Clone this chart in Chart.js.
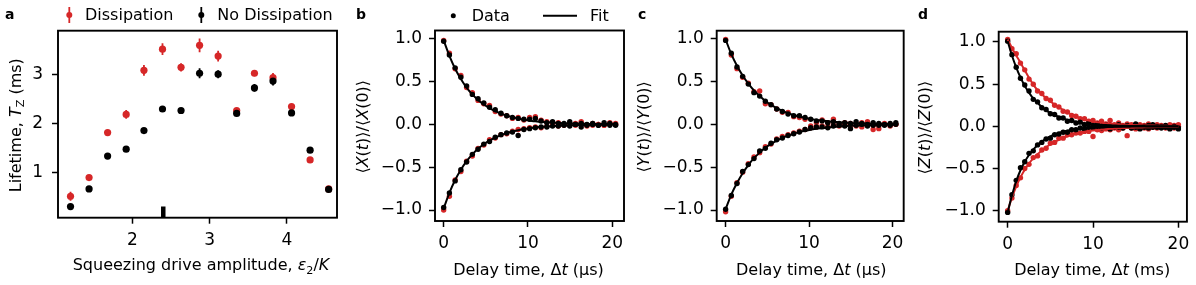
<!DOCTYPE html>
<html>
<head>
<meta charset="utf-8">
<script src="https://cdn.jsdelivr.net/npm/chart.js@4.4.0/dist/chart.umd.min.js"></script>
<style>
  body { margin: 0; background: #fff; width: 1196px; height: 285px; overflow: hidden; position: relative; }
  canvas { position: absolute; top: 0; }
</style>
</head>
<body>
<canvas id="panelA" width="345" height="285" style="left:0px"></canvas>
<canvas id="panelB" width="285" height="285" style="left:345px"></canvas>
<canvas id="panelC" width="280" height="285" style="left:630px"></canvas>
<canvas id="panelD" width="286" height="285" style="left:910px"></canvas>
<script>
// Panel a: lifetime vs squeezing drive amplitude
const amplitudes = [1.20, 1.44, 1.68, 1.92, 2.15, 2.39, 2.63, 2.87, 3.11, 3.35, 3.58, 3.82, 4.06, 4.30, 4.54];
const lifetimeDiss = [0.52, 0.90, 1.82, 2.19, 3.09, 3.52, 3.15, 3.60, 3.38, 2.27, 3.03, 2.94, 2.35, 1.26, 0.67];
const lifetimeDissErr = [0.09, 0.05, 0.05, 0.09, 0.11, 0.12, 0.085, 0.14, 0.11, 0.05, 0.06, 0.095, 0.05, 0.04, 0.03];
const lifetimeNoDiss = [0.31, 0.67, 1.34, 1.48, 1.86, 2.30, 2.27, 3.03, 3.01, 2.21, 2.73, 2.87, 2.22, 1.46, 0.66];
const lifetimeNoDissErr = [0.03, 0.04, 0.04, 0.05, 0.05, 0.05, 0.05, 0.10, 0.08, 0.05, 0.08, 0.09, 0.05, 0.05, 0.03];
const markerX = [2.40, 2.40];
const markerY = [0.0, 0.31];
const ampTicks = [2, 3, 4];
const lifetimeTicks = [1, 2, 3];

// Panels b, c: delay times in us
const timesXY = [0, 0.68, 1.36, 2.04, 2.72, 3.4, 4.08, 4.76, 5.44, 6.12, 6.8, 7.48, 8.16, 8.84, 9.52, 10.2,
  10.88, 11.56, 12.24, 12.92, 13.6, 14.28, 14.96, 15.64, 16.32, 17, 17.68, 18.36, 19.04, 19.72, 20.4];

const xBlackUp = [0.97, 0.81, 0.66, 0.55, 0.45, 0.35, 0.30, 0.25, 0.20, 0.17, 0.13, 0.10, 0.08, 0.07, 0.06, 0.06,
  0.07, 0.04, 0.02, 0.03, 0.01, 0.01, 0.03, 0.00, 0.01, 0.00, 0.01, -0.01, 0.02, 0.01, 0.00];
const xRedUp = [0.98, 0.83, 0.65, 0.57, 0.43, 0.37, 0.28, 0.24, 0.22, 0.15, 0.12, 0.10, 0.07, 0.08, 0.05, 0.08,
  0.09, 0.05, 0.03, 0.02, 0.02, 0.00, 0.01, 0.01, 0.03, -0.01, 0.01, 0.00, -0.01, 0.02, 0.01];
const xBlackLo = [-0.97, -0.80, -0.66, -0.53, -0.44, -0.35, -0.29, -0.23, -0.20, -0.15, -0.12, -0.10, -0.09, -0.13, -0.06, -0.05,
  -0.04, -0.03, -0.03, -0.02, -0.02, -0.01, -0.02, 0.00, -0.03, -0.01, 0.00, -0.01, 0.00, -0.01, -0.01];
const xRedLo = [-1.00, -0.84, -0.65, -0.55, -0.43, -0.37, -0.28, -0.24, -0.18, -0.16, -0.12, -0.11, -0.08, -0.06, -0.05, -0.04,
  -0.03, -0.04, -0.02, -0.01, -0.02, -0.01, 0.00, -0.01, 0.00, -0.02, -0.01, 0.00, -0.01, 0.01, 0.00];
const xFitUp = [0.98, 0.80, 0.65, 0.53, 0.43, 0.35, 0.285, 0.232, 0.189, 0.154, 0.125, 0.102, 0.083, 0.068, 0.055, 0.045,
  0.036, 0.030, 0.024, 0.020, 0.016, 0.013, 0.011, 0.009, 0.007, 0.006, 0.005, 0.004, 0.003, 0.003, 0.002];
const xFitLo = [-0.98, -0.80, -0.65, -0.53, -0.43, -0.35, -0.285, -0.232, -0.189, -0.154, -0.125, -0.102, -0.083, -0.068, -0.055, -0.045,
  -0.036, -0.030, -0.024, -0.020, -0.016, -0.013, -0.011, -0.009, -0.007, -0.006, -0.005, -0.004, -0.003, -0.003, -0.002];

const yBlackUp = [0.98, 0.83, 0.67, 0.56, 0.47, 0.37, 0.33, 0.27, 0.23, 0.18, 0.15, 0.12, 0.10, 0.10, 0.08, 0.06,
  0.04, 0.04, 0.02, 0.03, 0.01, 0.02, 0.01, 0.03, 0.01, 0.00, 0.02, 0.01, -0.01, 0.01, 0.02];
const yRedUp = [0.99, 0.81, 0.65, 0.55, 0.48, 0.38, 0.39, 0.24, 0.23, 0.18, 0.14, 0.14, 0.09, 0.08, 0.06, -0.02,
  0.02, 0.05, 0.02, 0.06, 0.00, 0.02, 0.01, -0.01, 0.02, 0.03, -0.01, -0.05, 0.01, 0.00, 0.00];
const yBlackLo = [-0.99, -0.83, -0.69, -0.55, -0.47, -0.40, -0.31, -0.28, -0.22, -0.18, -0.16, -0.13, -0.11, -0.09, -0.06, -0.04,
  -0.03, -0.03, -0.04, -0.02, -0.01, -0.02, -0.05, -0.01, 0.00, -0.02, -0.01, -0.01, 0.00, -0.01, 0.00];
const yRedLo = [-1.02, -0.84, -0.68, -0.56, -0.46, -0.38, -0.33, -0.26, -0.23, -0.17, -0.14, -0.12, -0.10, -0.08, -0.06, -0.04,
  -0.03, -0.02, -0.03, -0.01, -0.02, 0.00, -0.01, -0.02, -0.03, 0.00, -0.06, -0.01, 0.00, -0.02, 0.00];
const yFitUp = [0.99, 0.82, 0.685, 0.57, 0.475, 0.395, 0.33, 0.273, 0.228, 0.19, 0.157, 0.131, 0.109, 0.091, 0.075, 0.063,
  0.052, 0.044, 0.036, 0.030, 0.025, 0.021, 0.017, 0.014, 0.012, 0.010, 0.008, 0.007, 0.006, 0.005, 0.004];
const yFitLo = [-0.99, -0.82, -0.685, -0.57, -0.475, -0.395, -0.33, -0.273, -0.228, -0.19, -0.157, -0.131, -0.109, -0.091, -0.075, -0.063,
  -0.052, -0.044, -0.036, -0.030, -0.025, -0.021, -0.017, -0.014, -0.012, -0.010, -0.008, -0.007, -0.006, -0.005, -0.004];

// Panel d: delay times in ms
const timesZ = [0, 0.5, 1, 1.5, 2, 2.5, 3, 3.5, 4, 4.5, 5, 5.5, 6, 6.5, 7, 7.5, 8, 8.5, 9, 9.5, 10,
  10.5, 11, 11.5, 12, 12.5, 13, 13.5, 14, 14.5, 15, 15.5, 16, 16.5, 17, 17.5, 18, 18.5, 19, 19.5, 20];
const zBlackUp = [1.01, 0.85, 0.70, 0.57, 0.49, 0.42, 0.32, 0.29, 0.22, 0.20, 0.15, 0.14, 0.10, 0.10, 0.06, 0.07, 0.04, 0.05, 0.02, 0.04, 0.01,
  0.03, 0.00, 0.02, 0.01, -0.01, 0.02, 0.00, 0.01, -0.01, 0.03, 0.00, -0.01, 0.01, 0.02, -0.01, 0.00, 0.01, -0.02, 0.00, -0.02];
const zBlackLo = [-1.02, -0.81, -0.64, -0.49, -0.42, -0.32, -0.29, -0.22, -0.19, -0.15, -0.14, -0.10, -0.09, -0.07, -0.07, -0.04, -0.04, -0.02, -0.03, -0.01, -0.02,
  0.00, -0.02, -0.01, -0.03, 0.00, -0.01, -0.02, 0.00, -0.02, -0.01, -0.03, 0.00, -0.02, -0.01, 0.00, -0.02, -0.01, -0.03, -0.01, -0.03];
const zRedUp = [1.03, 0.92, 0.86, 0.75, 0.67, 0.56, 0.50, 0.42, 0.39, 0.33, 0.31, 0.25, 0.23, 0.18, 0.17, 0.13, 0.12, 0.09, 0.09, 0.06, 0.07,
  0.04, 0.06, 0.03, 0.07, 0.02, 0.04, 0.01, 0.03, 0.02, 0.00, 0.02, 0.01, 0.03, 0.00, 0.02, 0.01, -0.01, 0.02, 0.01, 0.02];
const zRedLo = [-1.00, -0.85, -0.70, -0.61, -0.50, -0.45, -0.37, -0.35, -0.28, -0.26, -0.20, -0.19, -0.14, -0.14, -0.10, -0.10, -0.08, -0.08, -0.06, -0.06, -0.12,
  -0.04, -0.05, -0.03, -0.04, -0.02, -0.04, -0.02, -0.11, -0.02, -0.03, -0.01, -0.02, -0.03, -0.01, -0.02, 0.00, -0.02, -0.01, -0.02, 0.00];
const zBlackFitUp = [1.01, 0.84, 0.70, 0.58, 0.48, 0.40, 0.33, 0.28, 0.23, 0.19, 0.16, 0.135, 0.11, 0.092, 0.077, 0.064, 0.053, 0.044, 0.037, 0.031, 0.025,
  0.021, 0.018, 0.015, 0.012, 0.010, 0.008, 0.007, 0.006, 0.005, 0.004, 0.003, 0.003, 0.002, 0.002, 0.002, 0.001, 0.001, 0.001, 0.001, 0.001];
const zBlackFitLo = [-1.02, -0.82, -0.65, -0.52, -0.42, -0.34, -0.275, -0.22, -0.18, -0.145, -0.12, -0.095, -0.078, -0.063, -0.051, -0.041, -0.033, -0.027, -0.022, -0.018, -0.015,
  -0.012, -0.010, -0.008, -0.007, -0.006, -0.005, -0.004, -0.004, -0.003, -0.003, -0.003, -0.002, -0.002, -0.002, -0.002, -0.002, -0.002, -0.002, -0.002, -0.002];
const zRedFitUp = [1.03, 0.93, 0.84, 0.755, 0.665, 0.575, 0.495, 0.43, 0.38, 0.335, 0.295, 0.258, 0.224, 0.193, 0.165, 0.14, 0.117, 0.097, 0.081, 0.068, 0.058,
  0.05, 0.043, 0.037, 0.032, 0.028, 0.024, 0.021, 0.018, 0.016, 0.014, 0.012, 0.011, 0.010, 0.009, 0.008, 0.007, 0.007, 0.006, 0.006, 0.005];
const zRedFitLo = [-1.00, -0.845, -0.715, -0.605, -0.515, -0.44, -0.38, -0.33, -0.285, -0.248, -0.215, -0.186, -0.16, -0.138, -0.118, -0.101, -0.087, -0.075, -0.065, -0.056, -0.049,
  -0.043, -0.038, -0.033, -0.029, -0.026, -0.023, -0.02, -0.018, -0.016, -0.014, -0.013, -0.012, -0.011, -0.010, -0.009, -0.008, -0.008, -0.007, -0.007, -0.006];

const timeTicks = [0, 10, 20];
const ratioTicks = [-1, -0.5, 0, 0.5, 1];

const RED = '#d62728';
const BLACK = '#000000';
const FONT = 'DejaVu Sans';
const FS = 16;       // titles and legend
const TICK_FS = 17;  // tick labels

Chart.defaults.font.family = FONT;
Chart.defaults.font.size = FS;
Chart.defaults.color = '#000';

function pts(xs, ys) {
    return xs.map((x, i) => ({ x: x, y: ys[i] }));
}

function fmtRatio(v) {
    return v.toFixed(1).replace('-', '\u2212');
}

function fmtInt(v) {
    return String(v);
}

// draw a piece of mixed italic / subscript text centred on (x, y baseline)
function drawParts(ctx, parts, x, y, rotate) {
    const fontOf = p => (p.it ? 'italic ' : '') + (p.sub ? FS * 0.7 : FS) + 'px "' + FONT + '"';
    let w = 0;
    parts.forEach(p => { ctx.font = fontOf(p); w += ctx.measureText(p.t).width; });
    ctx.save();
    ctx.translate(x, y);
    if (rotate) ctx.rotate(-Math.PI / 2);
    ctx.fillStyle = '#000';
    ctx.textAlign = 'left';
    ctx.textBaseline = 'alphabetic';
    let cx = -w / 2;
    parts.forEach(p => {
        ctx.font = fontOf(p);
        ctx.fillText(p.t, cx, p.sub ? FS * 0.22 : 0);
        cx += ctx.measureText(p.t).width;
    });
    ctx.restore();
}

// error bars, frame, titles, legend and panel letter
function makeDecor(d) {
    return {
        id: 'decor',
        beforeDatasetsDraw(chart) {
            const ctx = chart.ctx, a = chart.chartArea;
            ctx.save();
            ctx.beginPath();
            ctx.rect(a.left, a.top, a.right - a.left, a.bottom - a.top);
            ctx.clip();
            chart.data.datasets.forEach((ds, i) => {
                if (!ds.errorBars) return;
                const meta = chart.getDatasetMeta(i);
                const ys = chart.scales[meta.yAxisID];
                ctx.strokeStyle = ds.backgroundColor;
                ctx.lineWidth = 1.8;
                meta.data.forEach((el, j) => {
                    const v = ds.data[j].y, e = ds.errorBars[j];
                    ctx.beginPath();
                    ctx.moveTo(el.x, ys.getPixelForValue(v - e));
                    ctx.lineTo(el.x, ys.getPixelForValue(v + e));
                    ctx.stroke();
                });
            });
            ctx.restore();
        },
        afterDraw(chart) {
            const ctx = chart.ctx, a = chart.chartArea;
            ctx.save();
            ctx.strokeStyle = '#000';
            ctx.lineWidth = 1.9;
            ctx.strokeRect(a.left, a.top, a.right - a.left, a.bottom - a.top);

            ctx.fillStyle = '#000';
            ctx.font = 'bold 14px "' + FONT + '"';
            ctx.textBaseline = 'alphabetic';
            ctx.fillText(d.letter, d.letterX, 19);

            drawParts(ctx, d.xTitle, d.xTitleX, d.xTitleY, false);
            drawParts(ctx, d.yTitle, d.yTitleX, (a.top + a.bottom) / 2 + 1, true);

            (d.legend || []).forEach(item => {
                ctx.fillStyle = item.color;
                ctx.strokeStyle = item.color;
                if (item.kind === 'err') {
                    ctx.lineWidth = 1.8;
                    ctx.beginPath();
                    ctx.moveTo(item.x, item.y - 8);
                    ctx.lineTo(item.x, item.y + 8);
                    ctx.stroke();
                    ctx.beginPath();
                    ctx.arc(item.x, item.y, 3, 0, Math.PI * 2);
                    ctx.fill();
                } else if (item.kind === 'dot') {
                    ctx.beginPath();
                    ctx.arc(item.x, item.y, 2.5, 0, Math.PI * 2);
                    ctx.fill();
                } else {
                    ctx.lineWidth = 2;
                    ctx.beginPath();
                    ctx.moveTo(item.x, item.y);
                    ctx.lineTo(item.x2, item.y);
                    ctx.stroke();
                }
                ctx.fillStyle = '#000';
                ctx.font = FS + 'px "' + FONT + '"';
                ctx.fillText(item.text, item.tx, item.ty);
            });
            ctx.restore();
        }
    };
}

function xAxis(min, max, ticks, fmt, h) {
    return {
        type: 'linear', position: 'bottom', min: min, max: max,
        afterBuildTicks: s => { s.ticks = ticks.map(v => ({ value: v })); },
        afterFit: s => { s.height = h; },
        grid: { drawOnChartArea: false, drawTicks: true, tickLength: 6, tickWidth: 1.5, tickColor: '#000' },
        border: { display: false },
        ticks: { color: '#000', padding: 6.4, autoSkip: false, maxRotation: 0, callback: fmt, font: { size: TICK_FS } }
    };
}

function yAxis(min, max, ticks, fmt, w, pad) {
    return {
        type: 'linear', position: 'left', min: min, max: max,
        afterBuildTicks: s => { s.ticks = ticks.map(v => ({ value: v })); },
        afterFit: s => { s.width = w; },
        grid: { drawOnChartArea: false, drawTicks: true, tickLength: 6, tickWidth: 1.5, tickColor: '#000' },
        border: { display: false },
        ticks: { color: '#000', padding: pad, autoSkip: false, callback: fmt, font: { size: TICK_FS } }
    };
}

function points(xs, ys, color, r, order) {
    return { data: pts(xs, ys), backgroundColor: color, borderWidth: 0, pointRadius: r, showLine: false, order: order };
}

function fitLine(xs, ys, color, order) {
    return {
        data: pts(xs, ys), borderColor: color, backgroundColor: color, borderWidth: 2, pointRadius: 0,
        showLine: true, cubicInterpolationMode: 'monotone', order: order
    };
}

function makeChart(id, geo, datasets, scales, decor) {
    return new Chart(document.getElementById(id), {
        type: 'scatter',
        data: { datasets: datasets },
        options: {
            responsive: false,
            animation: false,
            devicePixelRatio: 1,
            events: [],
            layout: { padding: { left: 0, right: geo.padR, top: geo.padT, bottom: 0 } },
            scales: scales,
            plugins: { legend: { display: false }, tooltip: { enabled: false } }
        },
        plugins: [makeDecor(decor)]
    });
}

// a
const dissSet = points(amplitudes, lifetimeDiss, RED, 3.6, 3);
dissSet.errorBars = lifetimeDissErr;
const noDissSet = points(amplitudes, lifetimeNoDiss, BLACK, 3.6, 2);
noDissSet.errorBars = lifetimeNoDissErr;
makeChart('panelA', { padR: 8, padT: 30.7 }, [
    noDissSet, dissSet,
    { data: pts(markerX, markerY), borderColor: BLACK, borderWidth: 4.5, pointRadius: 0, showLine: true, borderCapStyle: 'butt', order: 1 }
], {
    x: xAxis(1.038, 4.648, ampTicks, fmtInt, 67.3),
    y: yAxis(0.082, 3.898, lifetimeTicks, fmtInt, 58, 9)
}, {
    letter: 'a', letterX: 5,
    xTitle: [{ t: 'Squeezing drive amplitude, ' }, { t: '\u03b5', it: true }, { t: '2', sub: true }, { t: '/' }, { t: 'K', it: true }],
    xTitleX: 201, xTitleY: 270,
    yTitle: [{ t: 'Lifetime, ' }, { t: 'T', it: true }, { t: 'Z', sub: true }, { t: ' (ms)' }],
    yTitleX: 20.5,
    legend: [
        { kind: 'err', color: RED, x: 69.3, y: 15, text: 'Dissipation', tx: 85, ty: 19.5 },
        { kind: 'err', color: BLACK, x: 201.3, y: 15, text: 'No Dissipation', tx: 217.3, ty: 19.5 }
    ]
});

function ratioTitle(op) {
    return [{ t: '\u27e8' }, { t: op, it: true }, { t: '(' }, { t: 't', it: true }, { t: ')\u27e9/\u27e8' },
        { t: op, it: true }, { t: '(0)\u27e9' }];
}
function delayTitle(unit) {
    return [{ t: 'Delay time, \u0394' }, { t: 't', it: true }, { t: ' (' + unit + ')' }];
}

// b
makeChart('panelB', { padR: 6, padT: 30.5 }, [
    fitLine(timesXY, xFitUp, BLACK, 0), fitLine(timesXY, xFitLo, BLACK, 0),
    points(timesXY, xBlackUp, BLACK, 2.7, 1), points(timesXY, xBlackLo, BLACK, 2.7, 1),
    points(timesXY, xRedUp, RED, 2.7, 2), points(timesXY, xRedLo, RED, 2.7, 2)
], {
    x: xAxis(-1.03, 21.4, timeTicks, fmtInt, 64),
    y: yAxis(-1.128, 1.096, ratioTicks, fmtRatio, 90, 7)
}, {
    letter: 'b', letterX: 11,
    xTitle: delayTitle('\u03bcs'), xTitleX: 183.5, xTitleY: 275,
    yTitle: ratioTitle('X'), yTitleX: 23.3,
    legend: [
        { kind: 'dot', color: BLACK, x: 108.3, y: 15.7, text: 'Data', tx: 126.7, ty: 21 },
        { kind: 'line', color: BLACK, x: 198, x2: 232, y: 15.7, text: 'Fit', tx: 245, ty: 21 }
    ]
});

// c
makeChart('panelC', { padR: 4.7, padT: 30.7 }, [
    fitLine(timesXY, yFitUp, BLACK, 0), fitLine(timesXY, yFitLo, BLACK, 0),
    points(timesXY, yBlackUp, BLACK, 2.7, 1), points(timesXY, yBlackLo, BLACK, 2.7, 1),
    points(timesXY, yRedUp, RED, 2.7, 2), points(timesXY, yRedLo, RED, 2.7, 2)
], {
    x: xAxis(-1.07, 21.34, timeTicks, fmtInt, 64),
    y: yAxis(-1.128, 1.093, ratioTicks, fmtRatio, 86.7, 7)
}, {
    letter: 'c', letterX: 8,
    xTitle: delayTitle('\u03bcs'), xTitleX: 181.3, xTitleY: 275,
    yTitle: ratioTitle('Y'), yTitleX: 19.3
});

// d
makeChart('panelD', { padR: 8.7, padT: 31.7 }, [
    fitLine(timesZ, zBlackFitUp, BLACK, 0), fitLine(timesZ, zBlackFitLo, BLACK, 0),
    fitLine(timesZ, zRedFitUp, RED, 1), fitLine(timesZ, zRedFitLo, RED, 1),
    points(timesZ, zBlackUp, BLACK, 2.7, 2), points(timesZ, zBlackLo, BLACK, 2.7, 2),
    points(timesZ, zRedUp, RED, 2.7, 3), points(timesZ, zRedLo, RED, 2.7, 3)
], {
    x: xAxis(-1.05, 21.0, timeTicks, fmtInt, 63.3),
    y: yAxis(-1.13, 1.122, ratioTicks, fmtRatio, 88.7, 7)
}, {
    letter: 'd', letterX: 8,
    xTitle: delayTitle('ms'), xTitleX: 182.2, xTitleY: 275,
    yTitle: ratioTitle('Z'), yTitleX: 20
});
</script>
</body>
</html>
